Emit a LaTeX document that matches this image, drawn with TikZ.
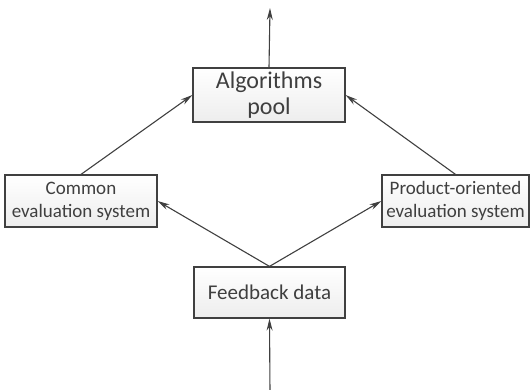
\documentclass[tikz,border=0pt]{standalone}
\usepackage{fontspec}
\setmainfont{Carlito}
\usetikzlibrary{arrows.meta}
\definecolor{ink}{HTML}{3F3F3F}
\definecolor{edge}{HTML}{404040}
\tikzset{
  box/.style={draw=edge, line width=1.2pt, top color=white, bottom color=black!7,
    text=ink, align=center, inner sep=0pt, minimum height=52pt},
  arr/.style={draw=edge, line width=1.1pt, -{Stealth[length=12pt,width=6pt]}}
}
\begin{document}
\begin{tikzpicture}[x=1pt,y=-1pt]
  \useasboundingbox (0,0) rectangle (531,390);
  \node[box, minimum width=152pt, minimum height=54pt, font=\fontsize{24}{26}\selectfont]
    (alg) at (269,95) {Algorithms\\pool};
  \node[box, minimum width=152pt, font=\fontsize{19}{23}\selectfont]
    (com) at (81,201) {Common\\evaluation system};
  \node[box, minimum width=147pt, font=\fontsize{19}{23}\selectfont]
    (prod) at (455.5,201) {Product-oriented\\evaluation system};
  \node[box, minimum width=151pt, minimum height=51pt, font=\fontsize{21}{24}\selectfont]
    (fb) at (269.5,292.5) {Feedback data};
  \coordinate (out) at (270,8);
  \coordinate (in) at (270,392);
  \draw[arr] (alg.north) -- (out);
  \draw[arr] (in) -- (fb.south);
  \draw[arr] (com.north) -- (alg.west);
  \draw[arr] (prod.north) -- (alg.east);
  \draw[arr] (fb.north) -- (com.east);
  \draw[arr] (fb.north) -- (prod.west);
\end{tikzpicture}
\end{document}
